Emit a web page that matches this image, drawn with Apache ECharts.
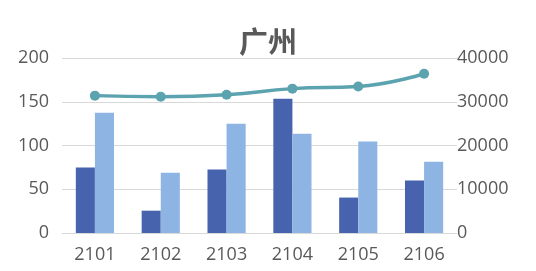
<!DOCTYPE html>
<html><head><meta charset="utf-8">
<script src="https://cdn.jsdelivr.net/npm/echarts@6/dist/echarts.min.js"></script>
<style>html,body{margin:0;padding:0;background:#fff}#c{width:536px;height:271px}</style>
</head><body><div id="c"></div>
<script>
const categories = ['2101','2102','2103','2104','2105','2106'];
const darkBars = [75, 25.5, 72.5, 153.5, 40.5, 60];
const lightBars = [137.5, 69, 125, 113.5, 104.5, 81.5];
const lineVals = [31400, 31150, 31600, 33000, 33500, 36400];
const leftTicks = [0, 200, 50];
const rightTicks = [0, 40000, 10000];

const chart = echarts.init(document.getElementById('c'));
const lbl = {color:'#595959', fontSize:18, fontFamily:'"Open Sans","Noto Sans CJK SC",sans-serif'};
chart.setOption({
  animation:false,
  title:{text:'广州', left:'center', top:22, textStyle:{color:'#595959', fontSize:29, fontWeight:'bold', fontFamily:'"Noto Sans CJK SC",sans-serif'}},
  grid:{left:62, right:79, top:58, bottom:38},
  xAxis:{type:'category', data:categories, axisTick:{show:false},
    axisLine:{lineStyle:{color:'#d9d9d9', width:1}},
    axisLabel:Object.assign({margin:13}, lbl)},
  yAxis:[
    {type:'value', min:leftTicks[0], max:leftTicks[1], interval:leftTicks[2],
     axisLabel:Object.assign({margin:13}, lbl),
     splitLine:{lineStyle:{color:'#d9d9d9'}}, axisLine:{show:false}, axisTick:{show:false}},
    {type:'value', min:rightTicks[0], max:rightTicks[1], interval:rightTicks[2],
     axisLabel:Object.assign({margin:0, formatter:v=>String(v)}, lbl),
     splitLine:{show:false}, axisLine:{show:false}, axisTick:{show:false}}
  ],
  series:[
    {type:'bar', data:darkBars, itemStyle:{color:'#4863AE'}, barGap:'0%', barCategoryGap:'42%'},
    {type:'bar', data:lightBars, itemStyle:{color:'#8EB4E3'}, barGap:'0%', barCategoryGap:'42%'},
    {type:'line', yAxisIndex:1, data:lineVals, smooth:true, symbol:'circle', symbolSize:10,
     lineStyle:{color:'#5BA3AE', width:3.5}, itemStyle:{color:'#5BA3AE'}}
  ]
});
</script></body></html>
